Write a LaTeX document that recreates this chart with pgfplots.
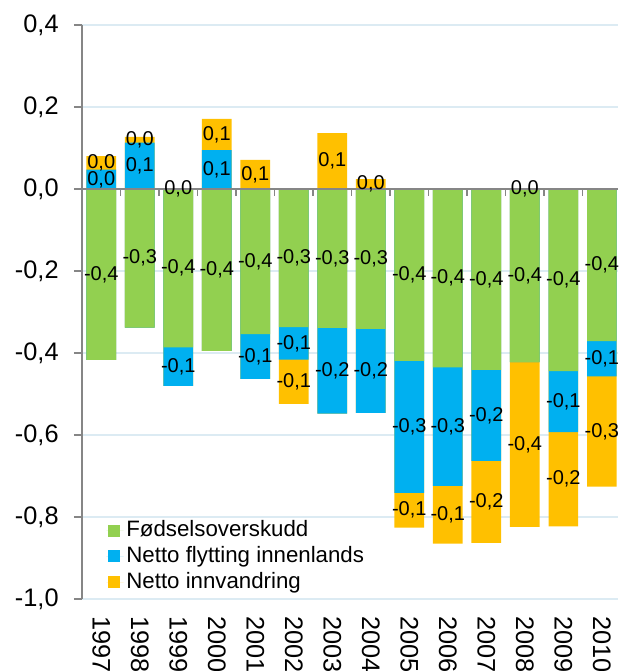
\documentclass[border=0pt]{standalone}
\usepackage{pgfplots}
\pgfplotsset{compat=1.18}
\usepackage{pgfplotstable}
\usepackage{fontspec}
\setmainfont{Liberation Sans}
\definecolor{cg}{HTML}{92D050}
\definecolor{cb}{HTML}{00B0F0}
\definecolor{co}{HTML}{FFC000}
\definecolor{axgray}{HTML}{868686}
\definecolor{gridc}{HTML}{DCEBF3}

% g = Fødselsoverskudd, bn/bp = Netto flytting innenlands (neg/pos),
% on/op = Netto innvandring (neg/pos)
\pgfplotstableread{
x  g       bn      on      bp     op
0  -0.417  0       0       0.047  0.033
1  -0.338  0       0       0.113  0.014
2  -0.386  -0.094  0       0      0.002
3  -0.395  0       0       0.095  0.076
4  -0.354  -0.109  0       0      0.071
5  -0.337  -0.079  -0.108  0      0
6  -0.339  -0.209  0       0      0.136
7  -0.341  -0.205  0       0      0.024
8  -0.419  -0.322  -0.085  0      0
9  -0.435  -0.289  -0.141  0      0
10 -0.441  -0.222  -0.200  0      0
11 -0.422  0       -0.402  0.001  0
12 -0.444  -0.149  -0.230  0      0
13 -0.371  -0.086  -0.269  0      0
}\data

\pgfplotsset{
  lbl/.style={forget plot, draw=none, fill=none,
    nodes near coords={\pgfmathprintnumber[fixed,fixed zerofill,precision=1,use comma,assume math mode=true]{\pgfplotspointmeta}},
    every node near coord/.append style={anchor=center, inner sep=0pt, text=black, font=\fontsize{15}{18}\selectfont}},
}

\begin{document}
\begin{tikzpicture}
\begin{axis}[
  at={(0,0)}, anchor=south west,
  scale only axis, width=402pt, height=430.5pt,
  xmin=-0.5, xmax=13.42, ymin=-1, ymax=0.4,
  ybar, bar width=0.77, bar shift=0pt,
  axis lines*=left,
  x axis line style={draw=none},
  y axis line style={draw=axgray, line width=1.2pt},
  xtick={0,1,2,3,4,5,6,7,8,9,10,11,12,13},
  xticklabels={1997,1998,1999,2000,2001,2002,2003,2004,2005,2006,2007,2008,2009,2010},
  x tick style={draw=none},
  ytick={-1,-0.8,-0.6,-0.4,-0.2,0,0.2,0.4},
  y tick style={draw=axgray, line width=1.2pt},
  tick align=outside, major tick length=6pt,
  ymajorgrids, grid style={gridc, line width=1pt},
  /pgf/number format/assume math mode=true,
  yticklabel style={/pgf/number format/fixed, /pgf/number format/fixed zerofill,
    /pgf/number format/precision=1, /pgf/number format/use comma, xshift=-8pt},
  tick label style={font=\fontsize{19}{22}\selectfont},
  xticklabel style={rotate=-90, anchor=west, inner sep=0pt},
  xticklabel shift=7pt,
  legend style={draw=none, fill=none, at={(0.045,0.1415)}, anchor=north west,
    font=\fontsize{16.7}{20}\selectfont, row sep=0pt, inner sep=0pt,
    nodes={inner ysep=1.6pt, inner xsep=2pt, text height=12.5pt, text depth=3.5pt}},
  legend cell align=left,
  legend image code/.code={\path (0pt,0pt) -- (13pt,0pt);\fill[#1] (1.5pt,-4.5pt) rectangle (10.5pt,4.5pt);},
  reverse legend,
]
% negative stacks (drawn outermost first)
\addplot[fill=co, draw=none] table[x=x, y expr=\thisrow{g}+\thisrow{bn}+\thisrow{on}] {\data};
\addplot[fill=cb, draw=none] table[x=x, y expr=\thisrow{g}+\thisrow{bn}] {\data};
\addplot[fill=cg, draw=none] table[x=x, y=g] {\data};
% positive stacks
\addplot[fill=co, draw=none, forget plot] table[x=x, y expr=\thisrow{bp}+\thisrow{op}] {\data};
\addplot[fill=cb, draw=none, forget plot] table[x=x, y=bp] {\data};
\legend{Netto innvandring, Netto flytting innenlands, Fødselsoverskudd}

% zero line with category ticks
\draw[axgray, line width=1.2pt] (axis cs:-0.5,0) -- (axis cs:13.42,0);
\pgfplotsinvokeforeach{0.5,1.5,2.5,3.5,4.5,5.5,6.5,7.5,8.5,9.5,10.5,11.5,12.5}{
  \draw[axgray, line width=1.2pt] (axis cs:#1,0) -- ++(0pt,-5pt);
}

% segment labels
\addplot[lbl, point meta=\thisrow{g}, restrict expr to domain={abs(\thisrow{g})}{0.0005:10}]
  table[x=x, y expr=\thisrow{g}/2] {\data};
\addplot[lbl, point meta=\thisrow{bn}, restrict expr to domain={abs(\thisrow{bn})}{0.0005:10}]
  table[x=x, y expr=\thisrow{g}+\thisrow{bn}/2] {\data};
\addplot[lbl, point meta=\thisrow{on}, restrict expr to domain={abs(\thisrow{on})}{0.0005:10}]
  table[x=x, y expr=\thisrow{g}+\thisrow{bn}+\thisrow{on}/2] {\data};
\addplot[lbl, point meta=\thisrow{bp}, restrict expr to domain={abs(\thisrow{bp})}{0.0005:10}]
  table[x=x, y expr=\thisrow{bp}/2] {\data};
\addplot[lbl, point meta=\thisrow{op}, restrict expr to domain={abs(\thisrow{op})}{0.0005:10}]
  table[x=x, y expr=\thisrow{bp}+\thisrow{op}/2] {\data};
\end{axis}
\pgfresetboundingbox
\path[use as bounding box] (-61.5pt,-54pt) rectangle (402pt,449.25pt);
\end{tikzpicture}
\end{document}
